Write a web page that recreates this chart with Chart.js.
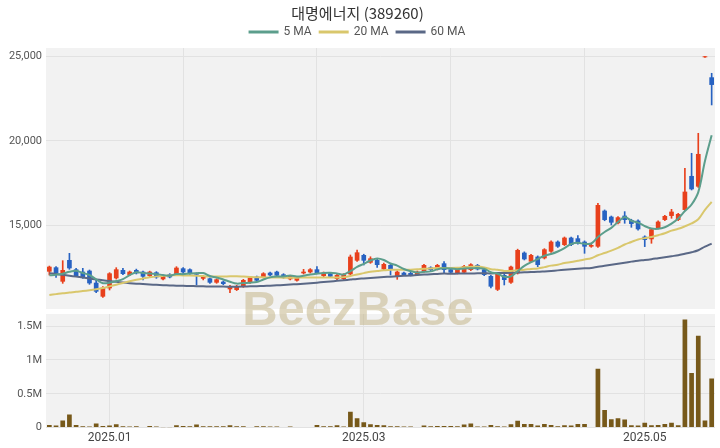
<!DOCTYPE html>
<html><head><meta charset="utf-8">
<script src="https://cdn.jsdelivr.net/npm/chart.js@4.4.1/dist/chart.umd.min.js"></script>
<style>
html,body{margin:0;padding:0;background:#fff;}
#wrap{position:relative;width:720px;height:448px;overflow:hidden;background:#fff;}
#c1{position:absolute;left:0;top:0;}
#c2{position:absolute;left:0;top:312px;}
#wm{position:absolute;left:0;width:716px;top:280px;text-align:center;font:bold 49px "Liberation Sans",Arial,sans-serif;color:rgba(196,182,138,0.55);pointer-events:none;}
</style></head><body>
<div id="wrap">
<canvas id="c1" width="720" height="312"></canvas>
<canvas id="c2" width="720" height="136"></canvas>
<div id="wm">BeezBase</div>
</div>
<script>
const dates = [
'2024-12-17','2024-12-18','2024-12-19','2024-12-20','2024-12-23','2024-12-24','2024-12-26','2024-12-27','2024-12-30',
'2025-01-02','2025-01-03','2025-01-06','2025-01-07','2025-01-08','2025-01-09','2025-01-10','2025-01-13','2025-01-14','2025-01-15','2025-01-16','2025-01-17','2025-01-20','2025-01-21','2025-01-22','2025-01-23','2025-01-24','2025-01-31',
'2025-02-03','2025-02-04','2025-02-05','2025-02-06','2025-02-07','2025-02-10','2025-02-11','2025-02-12','2025-02-13','2025-02-14','2025-02-17','2025-02-18','2025-02-19','2025-02-20','2025-02-21','2025-02-24','2025-02-25','2025-02-26','2025-02-27','2025-02-28',
'2025-03-04','2025-03-05','2025-03-06','2025-03-07','2025-03-10','2025-03-11','2025-03-12','2025-03-13','2025-03-14','2025-03-17','2025-03-18','2025-03-19','2025-03-20','2025-03-21','2025-03-24','2025-03-25','2025-03-26','2025-03-27','2025-03-28','2025-03-31',
'2025-04-01','2025-04-02','2025-04-03','2025-04-04','2025-04-07','2025-04-08','2025-04-09','2025-04-10','2025-04-11','2025-04-14','2025-04-15','2025-04-16','2025-04-17','2025-04-18','2025-04-21','2025-04-22','2025-04-23','2025-04-24','2025-04-25','2025-04-28','2025-04-29','2025-04-30',
'2025-05-02','2025-05-07','2025-05-08','2025-05-09','2025-05-12','2025-05-13','2025-05-14','2025-05-15','2025-05-16','2025-05-19','2025-05-20'];

const openP = [
12269,12525,11677,12959,12407,12269,12328,11618,10790,11282,
11874,12367,12072,12367,12269,12012,12229,11815,12111,12130,
12466,12407,12170,11850,11874,11618,11677,11224,11184,11381,
11618,11973,11933,12210,12269,12111,11815,11736,12170,12229,
12407,12012,12170,11835,11835,12111,12919,13255,12801,12959,
12407,12663,11973,12210,12190,12072,12269,12525,12407,12762,
12407,12170,12210,12367,12663,12407,12013,11200,12072,11619,
12171,13393,12861,13157,13058,13453,14044,13847,14281,14242,
14044,13749,13749,15878,15524,15130,15583,15327,15288,14341,
14184,14834,15327,15564,15327,15919,17930,17299,24950,23767];

const highP = [
12600,12564,12920,13353,12466,12466,12367,11815,11380,12210,
12505,12466,12310,12420,12300,12300,12270,12050,12150,12564,
12505,12440,12200,12050,11910,11850,11720,11460,11460,11815,
11950,12010,12210,12250,12300,12150,12050,11950,12407,12450,
12564,12250,12210,12110,12150,13255,13550,13300,13150,13000,
12780,12700,12320,12250,12230,12310,12700,12560,12700,12860,
12450,12500,12650,12740,12700,12450,12050,12210,12270,12600,
13600,13440,13300,13200,13630,14100,14090,14320,14320,14400,
14090,13890,16312,15920,15560,15530,15820,15370,15330,14390,
14820,15270,15600,15958,15720,18384,19271,20454,25000,24004];

const lowP = [
12070,11933,11578,12407,11973,11874,11519,11026,10750,11184,
11830,12090,12030,12130,11776,11970,11874,11776,11900,12100,
12091,12100,11480,11780,11580,11580,11500,11026,11150,11340,
11580,11700,11900,12010,12000,11880,11780,11700,12130,12190,
12130,11970,11930,11800,11800,12070,12880,12663,12760,12525,
12370,12072,11815,12030,12010,12030,12230,12330,12370,12170,
12170,12130,12170,12330,12370,12030,11300,11150,11481,11580,
12130,12960,12820,12565,13020,13410,13700,13810,13800,13900,
13354,13710,13710,15280,15031,15090,15130,14893,14730,13750,
13947,14790,15290,15426,15290,15880,17100,17250,24950,22131];

const closeP = [
12564,12170,12367,12466,12012,11933,11578,11085,11322,12170,
12407,12130,12269,12170,11973,12269,11933,12012,11933,12505,
12229,12130,12091,11970,11618,11815,11539,11420,11420,11776,
11914,11736,12170,12052,12032,11914,12012,11914,12269,12407,
12170,12210,11973,12072,12111,13156,13412,12919,13057,12663,
12722,12407,12269,12072,12052,12269,12663,12367,12663,12367,
12210,12466,12604,12702,12407,12072,11382,12170,11777,12565,
13551,12999,13256,12664,13591,14044,13749,14281,13847,13946,
13749,13847,16214,15326,15169,15485,15327,15091,14775,14144,
14775,15229,15564,15820,15682,17003,17141,19232,25000,23314];

const volume = [
40000,30000,104000,193000,40000,20000,15000,60000,25000,30000,
50000,20000,15000,20000,10000,25000,15000,5000,5000,35000,
25000,20000,45000,20000,20000,20000,20000,35000,20000,20000,
10000,20000,20000,15000,15000,10000,15000,10000,10000,10000,
40000,20000,20000,35000,15000,233000,140000,80000,50000,40000,
35000,20000,20000,15000,15000,10000,30000,20000,25000,25000,
25000,20000,45000,60000,15000,15000,40000,20000,15000,50000,
100000,55000,55000,30000,55000,40000,20000,35000,30000,55000,
55000,10000,870000,260000,125000,140000,120000,35000,30000,70000,
35000,40000,55000,70000,35000,1600000,806000,1360000,104000,727000];

const ma5 = [
12050,12090,12150,12260,12316,12190,12071,11815,11586,11618,
11712,11823,12060,12229,12190,12162,12123,12071,12024,12130,
12122,12162,12178,12185,12008,11925,11807,11672,11562,11594,
11614,11653,11803,11930,11981,11981,12036,11985,12028,12103,
12154,12194,12206,12166,12107,12304,12545,12734,12931,13041,
12955,12754,12624,12427,12304,12214,12265,12285,12403,12466,
12454,12415,12462,12470,12478,12450,12233,12147,11962,11993,
12289,12612,12830,13007,13212,13311,13461,13666,13902,13973,
13914,13934,14321,14616,14861,15208,15504,15280,15169,14964,
14822,14803,14897,15106,15414,15860,16242,16976,18812,20338];

const ma20 = [
10890,10940,10990,11030,11080,11120,11170,11230,11300,11400,
11500,11600,11700,11790,11870,11940,11990,12020,12040,12063,
12047,12045,12031,12006,11986,11980,11979,11995,12000,11980,
11956,11936,11931,11925,11928,11910,11914,11910,11926,11921,
11918,11922,11917,11922,11946,12013,12107,12182,12264,12308,
12349,12382,12387,12388,12389,12407,12439,12462,12482,12480,
12482,12495,12526,12558,12572,12518,12417,12379,12315,12310,
12352,12381,12431,12460,12537,12626,12680,12776,12835,12914,
12991,13060,13241,13372,13510,13681,13878,14024,14174,14253,
14314,14425,14541,14699,14803,14951,15121,15368,15926,16394];

const ma60 = [
12180,12130,12080,12030,11975,11920,11865,11810,11760,11710,
11665,11625,11590,11560,11535,11510,11490,11470,11455,11440,
11430,11420,11410,11400,11395,11390,11385,11380,11380,11385,
11400,11410,11425,11440,11460,11480,11505,11530,11560,11590,
11620,11655,11690,11725,11760,11800,11840,11870,11900,11925,
11950,11975,12000,12020,12040,12070,12095,12115,12135,12155,
12149,12154,12158,12162,12168,12171,12167,12185,12193,12200,
12219,12233,12250,12258,12285,12314,12345,12383,12414,12438,
12464,12492,12561,12617,12676,12737,12801,12862,12918,12957,
13005,13063,13120,13182,13243,13328,13413,13535,13748,13929];

const xTickDates = ['2025-01-02','2025-03-04','2025-05-02'];
const xTickLabels = ['2025.01','2025.03','2025.05'];
const priceGridIdx = [20,40,60,80];
const priceTicks = [15000,20000,25000];
const volTicks = [0,500000,1000000,1500000];
const volTickLabels = ['0','0.5M','1M','1.5M'];

const UP = '#e8401c', DOWN = '#2762c2';
const candleColor = closeP.map((c,i)=> c >= openP[i] ? UP : DOWN);
const bodies = openP.map((o,i)=>[o, closeP[i]]);
const wicks = lowP.map((l,i)=>[l, highP[i]]);
const xTickIdx = xTickDates.map(d => dates.indexOf(d));

Chart.defaults.font.family = 'Roboto, "Noto Sans CJK KR", "Noto Sans", sans-serif';
const GRID = '#e2e2e2';

function noPad(s){ s.paddingTop = 0; s.paddingBottom = 0; s.paddingLeft = 0; s.paddingRight = 0; }
function yFit(s){ s.width = 46; noPad(s); }

const plotBg = {
  id:'plotBg',
  beforeDraw(chart){
    const {ctx, chartArea:a} = chart;
    ctx.save(); ctx.fillStyle = '#f2f2f2';
    ctx.fillRect(a.left, a.top, a.right-a.left, a.bottom-a.top);
    ctx.restore();
  }
};

new Chart(document.getElementById('c1'), {
  type:'bar',
  data:{ labels: dates, datasets:[
    {type:'line', label:'5 MA', data: ma5, borderColor:'#5c9e8c', backgroundColor:'#5c9e8c', borderWidth:2, pointRadius:0, tension:0.35, order:0},
    {type:'line', label:'20 MA', data: ma20, borderColor:'#d9c76c', backgroundColor:'#d9c76c', borderWidth:2, pointRadius:0, tension:0.35, order:0},
    {type:'line', label:'60 MA', data: ma60, borderColor:'#5a6886', backgroundColor:'#5a6886', borderWidth:2, pointRadius:0, tension:0.35, order:0},
    {label:'', data: wicks, backgroundColor: candleColor, barThickness:1, grouped:false, order:2},
    {label:'', data: bodies, backgroundColor: candleColor, barPercentage:0.7, categoryPercentage:1, grouped:false, minBarLength:1, order:1}
  ]},
  options:{
    responsive:false, animation:false,
    layout:{autoPadding:false, padding:{left:0,right:5,top:0,bottom:3}},
    plugins:{
      title:{display:true, text:'대명에너지 (389260)', color:'#333',
        font:{family:'"Noto Sans CJK KR", "Noto Sans", sans-serif', size:15, weight:'normal'}, padding:{top:4,bottom:-4}},
      legend:{display:true, labels:{filter: it => it.text !== '', boxWidth:28, boxHeight:1, color:'#555',
        font:{size:12}, padding:8}},
      tooltip:{enabled:false}
    },
    scales:{
      x:{ offset:true,
        afterBuildTicks: s => { s.ticks = priceGridIdx.map(v=>({value:v})); },
        afterFit: noPad,
        grid:{offset:false, color:GRID, drawTicks:false},
        ticks:{display:false, autoSkip:false}, border:{display:false} },
      y:{ min:10060, max:25500,
        afterBuildTicks: s => { s.ticks = priceTicks.map(v=>({value:v})); },
        afterFit: yFit,
        ticks:{ callback: v => Number(v).toLocaleString('en-US'), color:'#555', font:{size:11}, padding:4 },
        grid:{color:GRID, drawTicks:false}, border:{display:false} }
    }
  },
  plugins:[plotBg]
});

new Chart(document.getElementById('c2'), {
  type:'bar',
  data:{labels: dates, datasets:[{label:'Volume', data: volume, backgroundColor:'#77591a', barPercentage:0.7, categoryPercentage:1}]},
  options:{
    responsive:false, animation:false,
    layout:{autoPadding:false, padding:{left:0,right:5,top:2,bottom:0}},
    plugins:{legend:{display:false}, tooltip:{enabled:false}},
    scales:{
      x:{ offset:true,
        afterBuildTicks: s => { s.ticks = xTickIdx.map(v=>({value:v})); },
        afterFit: noPad,
        grid:{offset:false, color:GRID, drawTicks:false},
        ticks:{autoSkip:false, maxRotation:0, callback: v => xTickLabels[xTickIdx.indexOf(v)], color:'#444', font:{size:12}, padding:3},
        border:{display:false} },
      y:{ min:0, max:1680000,
        afterBuildTicks: s => { s.ticks = volTicks.map(v=>({value:v})); },
        afterFit: yFit,
        ticks:{ callback: v => volTickLabels[volTicks.indexOf(v)], color:'#555', font:{size:11}, padding:4 },
        grid:{color:GRID, drawTicks:false}, border:{display:false} }
    }
  },
  plugins:[plotBg]
});
</script>
</body></html>
